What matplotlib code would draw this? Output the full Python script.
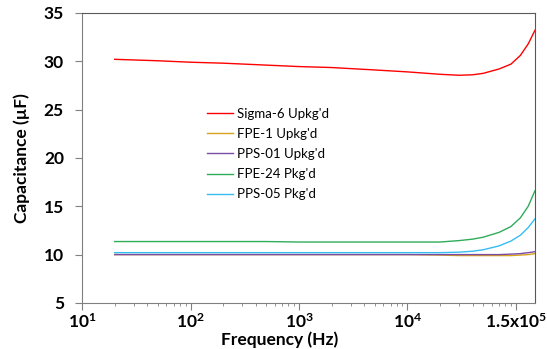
import matplotlib
matplotlib.use("Agg")
import matplotlib.pyplot as plt
from matplotlib.ticker import FixedLocator, LogLocator, NullFormatter

plt.rcParams['font.family'] = ['Lato', 'DejaVu Sans']
plt.rcParams['font.weight'] = 'bold'
plt.rcParams['mathtext.fontset'] = 'custom'
plt.rcParams['mathtext.rm'] = 'Lato:bold'
plt.rcParams['mathtext.bf'] = 'Lato:bold'

freq = [20, 50, 100, 200, 500, 1000, 2000, 5000, 10000, 20000, 30000,
        40000, 50000, 70000, 90000, 110000, 130000, 150000]

sigma6 = [30.2, 30.05, 29.9, 29.8, 29.6, 29.45, 29.35, 29.1, 28.9, 28.65, 28.55,
          28.6, 28.75, 29.2, 29.7, 30.6, 31.8, 33.2]
fpe1 = [10.0, 10.0, 10.0, 10.0, 10.0, 10.0, 10.0, 10.0, 10.0, 9.95, 9.9,
        9.9, 9.9, 9.9, 9.9, 9.95, 10.0, 10.1]
pps01 = [10.0, 10.0, 10.0, 10.0, 10.0, 10.0, 10.0, 10.0, 10.0, 10.0, 10.0,
         10.0, 10.0, 10.0, 10.05, 10.1, 10.2, 10.3]
fpe24 = [11.35, 11.35, 11.35, 11.35, 11.35, 11.3, 11.3, 11.3, 11.3, 11.3, 11.45,
         11.6, 11.8, 12.3, 12.9, 13.8, 15.0, 16.6]
pps05 = [10.2, 10.2, 10.2, 10.2, 10.2, 10.2, 10.2, 10.2, 10.2, 10.2, 10.25,
         10.35, 10.5, 10.9, 11.4, 12.0, 12.8, 13.7]

names = ["Sigma-6 Upkg'd", "FPE-1 Upkg'd", "PPS-01 Upkg'd", "FPE-24 Pkg'd", "PPS-05 Pkg'd"]
colors = ['#FF0000', '#D9A21B', '#7A4CA8', '#2EAD5B', '#35BDF2']

xticks = [10, 100, 1000, 10000, 100000]
xticklabels = [r'$\mathbf{10^{1}}$', r'$\mathbf{10^{2}}$', r'$\mathbf{10^{3}}$',
               r'$\mathbf{10^{4}}$', r'$\mathbf{1.5x10^{5}}$']
yticks = [5, 10, 15, 20, 25, 30, 35]

fig = plt.figure(figsize=(5.47, 3.49), dpi=100)
ax = fig.add_axes([0.150, 0.132, 0.828, 0.831])

for vals, name, c in zip([sigma6, fpe1, pps01, fpe24, pps05], names, colors):
    ax.plot(freq, vals, color=c, lw=1.0, label=name)

ax.set_xscale('log')
ax.set_xlim(10, 150000)
ax.set_ylim(5, 35)
ax.xaxis.set_major_locator(FixedLocator(xticks))
ax.set_xticklabels(xticklabels)
ax.xaxis.set_minor_locator(LogLocator(base=10, subs=range(2, 10)))
ax.xaxis.set_minor_formatter(NullFormatter())
ax.set_yticks(yticks)
ax.set_yticklabels([str(v) for v in yticks])

ax.tick_params(axis='both', which='major', direction='out', length=5, width=0.8,
               color='#808080', labelsize=12.5)
ax.tick_params(axis='x', which='minor', direction='out', length=2.5, width=0.6, color='#808080')
ax.tick_params(axis='x', which='major', pad=2)
ax.tick_params(axis='y', which='major', pad=8)
for s in ['left', 'bottom']:
    ax.spines[s].set_color('#808080')
for s in ['top', 'right']:
    ax.spines[s].set_color('#595959')

ax.set_xlabel('Frequency (Hz)', fontsize=12.5, fontweight='bold')
ax.set_ylabel('Capacitance (\u00b5F)', fontsize=12.5, fontweight='bold')
ax.xaxis.set_label_coords(0.437, -0.1)
ax.yaxis.set_label_coords(-0.115, 0.5)

ax.legend(loc='upper left', bbox_to_anchor=(0.276, 0.673), frameon=False,
          prop={'size': 9.5, 'weight': 'normal'},
          handlelength=2.0, handletextpad=0.3, labelspacing=0.62,
          borderpad=0, borderaxespad=0)

fig.savefig('out.png', dpi=100)
